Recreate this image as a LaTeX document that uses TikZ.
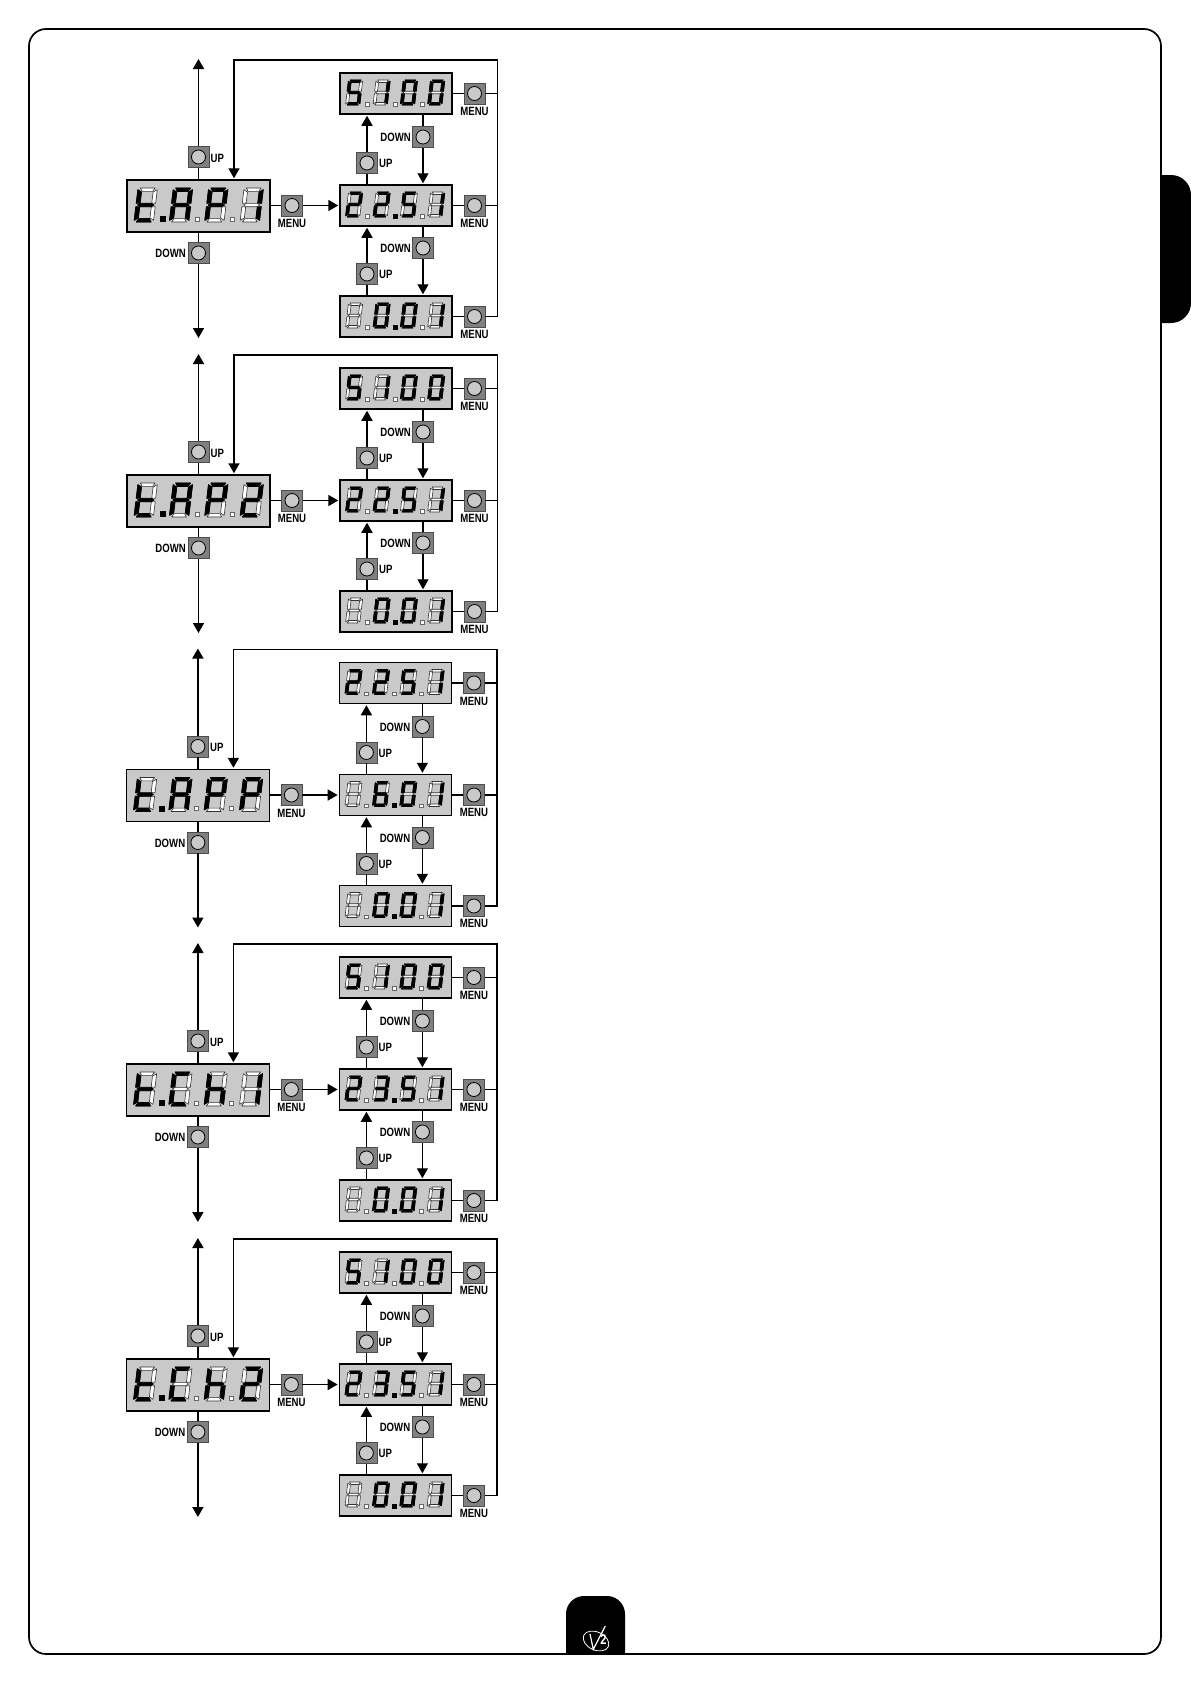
\documentclass[tikz,border=0pt]{standalone}
\usepackage{fontspec}
\setmainfont{Liberation Sans}[FakeStretch=0.8]
\usetikzlibrary{arrows.meta,calc}
\definecolor{dispgray}{gray}{0.79}
\definecolor{btngray}{gray}{0.50}
\tikzset{
  disp/.style={rectangle,draw=black,line width=1.5pt,fill=dispgray,inner sep=0pt,minimum width=112pt,minimum height=41pt},
  dispmain/.style={disp,minimum width=143pt,minimum height=52pt},
  btn/.style={rectangle,draw=black!70,line width=0.8pt,fill=btngray,inner sep=0pt,minimum size=21pt},
  btncirc/.style={draw=black,line width=0.8pt,fill=dispgray},
  lbl/.style={inner sep=0pt,font=\bfseries\fontsize{12}{12}\selectfont},
  conn/.style={draw=black,line width=1.7pt},
  thinconn/.style={draw=black,line width=1.2pt},
  arrconn/.style={conn,-{Triangle[width=11pt,length=10pt]},shorten >=1pt},
  thinarr/.style={thinconn,-{Triangle[width=11pt,length=10pt]},shorten >=1pt},
  segon/.style={draw=black,fill=black,line width=0.8pt,line join=round},
  segoff/.style={draw=black!80,fill=white,line width=0.6pt,line join=round},
}
% seven segments in a 10 x 20 cell
\def\ssg#1{}
\def\ssga#1{\path[#1] (1.2,20)--(8.8,20)--(7.7,18)--(2.3,18)--cycle;}
\def\ssgd#1{\path[#1] (1.2,0)--(8.8,0)--(7.7,2)--(2.3,2)--cycle;}
\def\ssgf#1{\path[#1] (0,19)--(0,11)--(2,11.2)--(2,17.6)--cycle;}
\def\ssge#1{\path[#1] (0,1)--(0,9)--(2,8.8)--(2,2.4)--cycle;}
\def\ssgb#1{\path[#1] (10,19)--(10,11)--(8,11.2)--(8,17.6)--cycle;}
\def\ssgc#1{\path[#1] (10,1)--(10,9)--(8,8.8)--(8,2.4)--cycle;}
\def\ssgg#1{\path[#1] (0.8,10)--(2.2,11)--(7.8,11)--(9.2,10)--(7.8,9)--(2.2,9)--cycle;}
\def\gT{d,e,f,g}
\def\gA{a,b,c,e,f,g}
\def\gP{a,b,e,f,g}
\def\gC{a,d,e,f}
\def\gH{c,e,f,g}
\def\gOne{b,c}
\def\gTwo{a,b,d,e,g}
\def\gThree{a,b,c,d,g}
\def\gFive{a,c,d,f,g}
\def\gSix{a,c,d,e,f,g}
\def\gZero{a,b,c,d,e,f}
\def\gNone{}
% \segdigit{x}{baseline y}{scale}{glyph}
\newcommand\segdigit[4]{%
  \begin{scope}[shift={(#1,#2)},x={(1.14*#3pt,0pt)},y={(0.12*#3pt,#3pt)}]
    \foreach \g in {a,b,c,d,e,f,g}{\csname ssg\g\endcsname{segoff}}
    \foreach \g in #4{\csname ssg\g\endcsname{segon}}
  \end{scope}}
% \segdot{x}{y}{0/1}{on size}{off size}
\newcommand\segdot[5]{%
  \ifnum#3=1
    \fill[black] ({#1-#4/2},{#2-#4/2}) rectangle ({#1+#4/2},{#2+#4/2});
  \else
    \draw[draw=black!60,fill=white,line width=0.5pt] ({#1-#5/2},{#2-#5/2}) rectangle ({#1+#5/2},{#2+#5/2});
  \fi}
% main display digits
\newcommand\maindigits[4]{%
  \segdigit{134}{222}{1.7}{#1}\segdigit{169.3}{222}{1.7}{#2}\segdigit{204.6}{222}{1.7}{#3}\segdigit{240}{222}{1.7}{#4}%
  \segdot{162.5}{219}{1}{6}{4}\segdot{197}{219}{0}{6}{4}\segdot{232}{219}{0}{6}{4}}
% small display digits: baseline, four glyphs, second dot
\newcommand\smalldigits[6]{%
  \segdigit{345.5}{#1}{1.25}{#2}\segdigit{373}{#1}{1.25}{#3}\segdigit{400.3}{#1}{1.25}{#4}\segdigit{427.6}{#1}{1.25}{#5}%
  \segdot{367}{#1-1}{0}{5}{3.5}\segdot{395}{#1-1}{#6}{5}{3.5}\segdot{422}{#1-1}{0}{5}{3.5}}
% button: name, position
\newcommand\pushbtn[2]{\node[btn] (#1) at (#2) {}; \draw[btncirc] (#1) circle (7);}
% whole flow panel without its digits
\newcommand\flowpanel[1]{%
  \node[dispmain] (#1main) at (198.5,206) {};
  \node[disp] (#1top) at (396,93.5) {};
  \node[disp] (#1mid) at (396,205.5) {};
  \node[disp] (#1bot) at (396,316.5) {};
  \pushbtn{#1up}{198.5,157}
  \pushbtn{#1dn}{198.5,253}
  \pushbtn{#1mn}{292,205.5}
  \pushbtn{#1upa}{367,163}
  \pushbtn{#1dna}{423,137}
  \pushbtn{#1upb}{367,274}
  \pushbtn{#1dnb}{423,248}
  \pushbtn{#1tm}{474.5,93.5}
  \pushbtn{#1mm}{474.5,205.5}
  \pushbtn{#1bm}{474.5,316.5}
  \node[lbl,anchor=west] (#1upl) at (210.5,158) {UP};
  \node[lbl,anchor=east] (#1dnl) at (186,253.5) {DOWN};
  \node[lbl] (#1mnl) at (292,223.5) {MENU};
  \node[lbl,anchor=west] (#1upal) at (379,163.5) {UP};
  \node[lbl,anchor=east] (#1dnal) at (411,137.5) {DOWN};
  \node[lbl,anchor=west] (#1upbl) at (379,274.5) {UP};
  \node[lbl,anchor=east] (#1dnbl) at (411,248.5) {DOWN};
  \node[lbl] (#1tml) at (474.5,111.5) {MENU};
  \node[lbl] (#1mml) at (474.5,223) {MENU};
  \node[lbl] (#1bml) at (474.5,334) {MENU};
  \coordinate (#1endu) at (198.5,59);
  \coordinate (#1endd) at (198.5,338);
  \coordinate (#1tr) at (497.5,60);
  \coordinate (#1tl) at (234,60);
  \draw[conn] (#1main.north -| #1up) -- (#1up.south);
  \draw[arrconn,shorten >=0pt] (#1up.north) -- (#1endu);
  \draw[conn] (#1main.south -| #1dn) -- (#1dn.north);
  \draw[arrconn,shorten >=0pt] (#1dn.south) -- (#1endd);
  \draw[conn] (#1mn.west -| #1main.east) -- (#1mn.west);
  \draw[arrconn] (#1mn.east) -- (#1mid.west);
  \draw[conn] (#1mid.north -| #1upa) -- (#1upa.south);
  \draw[arrconn] (#1upa.north) -- (#1upa.north |- #1top.south);
  \draw[thinconn] (#1top.south -| #1dna) -- (#1dna.north);
  \draw[thinarr] (#1dna.south) -- (#1dna.south |- #1mid.north);
  \draw[conn] (#1bot.north -| #1upb) -- (#1upb.south);
  \draw[arrconn] (#1upb.north) -- (#1upb.north |- #1mid.south);
  \draw[thinconn] (#1mid.south -| #1dnb) -- (#1dnb.north);
  \draw[thinarr] (#1dnb.south) -- (#1dnb.south |- #1bot.north);
  \draw[conn] (#1top.east) -- (#1tm.west);
  \draw[conn] (#1mid.east) -- (#1mm.west);
  \draw[conn] (#1bot.east) -- (#1bm.west);
  \draw[conn] (#1tm.east) -- (#1tm.east -| #1tr);
  \draw[conn] (#1mm.east) -- (#1mm.east -| #1tr);
  \draw[arrconn] (#1bm.east) -| (#1tr) -- (#1tl) -- (#1tl |- #1main.north);
}
\begin{document}
\begin{tikzpicture}[x=1pt,y=-1pt]
\useasboundingbox (0,0) rectangle (1191,1684);
% page tabs and frame
\begin{scope}
  \clip (1161,150) rectangle (1191,350);
  \fill[black,rounded corners=20pt] (1130,175) rectangle (1191,323);
\end{scope}
\begin{scope}
  \clip (560,1590) rectangle (630,1654);
  \fill[black,rounded corners=18pt] (566,1596) rectangle (625,1690);
\end{scope}
\draw[black,line width=1.7pt,rounded corners=17pt] (29,29) rectangle (1161,1654);
% logo
\draw[white,line width=0.8pt,rotate around={-25:(596,1641)}] (596,1641) ellipse [x radius=13.5,y radius=9];
\draw[white,line width=1.2pt] (590,1634) -- (593.3,1649.3) -- (605.3,1626);
\node[inner sep=0pt,text=white,font=\bfseries\fontsize{14}{14}\selectfont] (logotwo) at (603.5,1640) {2};
% panels
\begin{scope}[shift={(0,0)}]
  \flowpanel{a}
  \maindigits{\gT}{\gA}{\gP}{\gOne}
  \smalldigits{105}{\gFive}{\gOne}{\gZero}{\gZero}{0}
  \smalldigits{217}{\gTwo}{\gTwo}{\gFive}{\gOne}{1}
  \smalldigits{328}{\gNone}{\gZero}{\gZero}{\gOne}{1}
\end{scope}
\begin{scope}[shift={(0,295)}]
  \flowpanel{b}
  \maindigits{\gT}{\gA}{\gP}{\gTwo}
  \smalldigits{105}{\gFive}{\gOne}{\gZero}{\gZero}{0}
  \smalldigits{217}{\gTwo}{\gTwo}{\gFive}{\gOne}{1}
  \smalldigits{328}{\gNone}{\gZero}{\gZero}{\gOne}{1}
\end{scope}
\begin{scope}[shift={(-0.6,589.5)}]
  \flowpanel{c}
  \maindigits{\gT}{\gA}{\gP}{\gP}
  \smalldigits{105}{\gTwo}{\gTwo}{\gFive}{\gOne}{0}
  \smalldigits{217}{\gNone}{\gSix}{\gZero}{\gOne}{1}
  \smalldigits{328}{\gNone}{\gZero}{\gZero}{\gOne}{1}
\end{scope}
\begin{scope}[shift={(-0.6,884)}]
  \flowpanel{d}
  \maindigits{\gT}{\gC}{\gH}{\gOne}
  \smalldigits{105}{\gFive}{\gOne}{\gZero}{\gZero}{0}
  \smalldigits{217}{\gTwo}{\gThree}{\gFive}{\gOne}{1}
  \smalldigits{328}{\gNone}{\gZero}{\gZero}{\gOne}{1}
\end{scope}
\begin{scope}[shift={(-0.6,1179)}]
  \flowpanel{e}
  \maindigits{\gT}{\gC}{\gH}{\gTwo}
  \smalldigits{105}{\gFive}{\gOne}{\gZero}{\gZero}{0}
  \smalldigits{217}{\gTwo}{\gThree}{\gFive}{\gOne}{1}
  \smalldigits{328}{\gNone}{\gZero}{\gZero}{\gOne}{1}
\end{scope}
\end{tikzpicture}
\end{document}
